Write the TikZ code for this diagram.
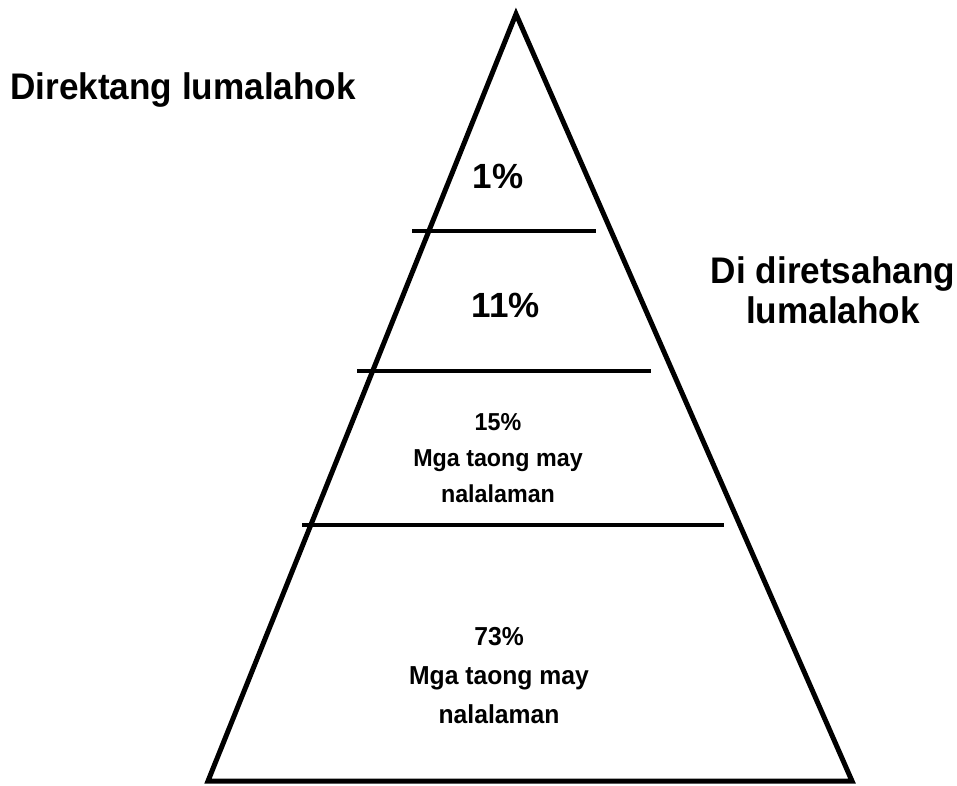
\documentclass[tikz,border=0pt]{standalone}
\usepackage{fontspec}
\setmainfont{Liberation Sans}
% slightly narrowed bold sans for the captions
\newfontfamily\narrowsans[FakeStretch=0.95]{Liberation Sans}
\begin{document}
\begin{tikzpicture}[x=1pt,y=-1pt,
  edge/.style={line width=5pt,line join=miter},
  tier/.style={line width=4pt},
  label/.style={font=\narrowsans\bfseries\fontsize{37}{40}\selectfont,inner sep=0pt},
  share/.style={font=\bfseries\fontsize{35}{38}\selectfont,inner sep=0pt,align=center},
  group/.style={font=\narrowsans\bfseries\fontsize{24.5}{36}\selectfont,inner sep=0pt,align=center},
  groupbig/.style={font=\narrowsans\bfseries\fontsize{26}{39}\selectfont,inner sep=0pt,align=center}]
  \useasboundingbox (0,0) rectangle (957,785);
  \fill[white] (0,0) rectangle (957,785);

  % pyramid outline
  \coordinate (apex) at (516,14);
  \coordinate (bl) at (208,781);
  \coordinate (br) at (852,781);
  \draw[edge] (apex) -- (br) -- (bl) -- cycle;

  % dividing lines between the tiers
  \coordinate (t1l) at (412,231); \coordinate (t1r) at (596,231);
  \coordinate (t2l) at (357,371); \coordinate (t2r) at (651,371);
  \coordinate (t3l) at (302,525); \coordinate (t3r) at (724,525);
  \draw[tier] (t1l) -- (t1r);
  \draw[tier] (t2l) -- (t2r);
  \draw[tier] (t3l) -- (t3r);

  % tier contents
  \node[share] (p1) at (498,176) {1\%};
  \node[share] (p11) at (506,305) {11\%};
  \node[group] (p15) at (498,458) {15\%\\Mga taong may\\nalalaman};
  \node[groupbig] (p73) at (499,676) {73\%\\Mga taong may\\nalalaman};

  % side captions
  \node[label,anchor=west] (direct) at (10,90) {Direktang lumalahok};
  \node[label,align=center] (indirect) at (833,290) {Di diretsahang\\lumalahok};
\end{tikzpicture}
\end{document}
